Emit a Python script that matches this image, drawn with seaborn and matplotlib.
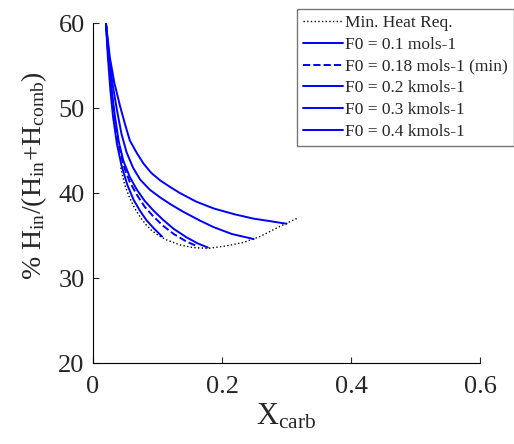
import matplotlib
matplotlib.use("Agg")
import matplotlib.pyplot as plt
import seaborn as sns
import pandas as pd
from matplotlib.lines import Line2D

# --- data ---
minheat_x = [0.043, 0.049, 0.056, 0.064, 0.073, 0.082, 0.091, 0.102, 0.114, 0.135,
             0.155, 0.178, 0.207, 0.233, 0.259, 0.290, 0.318]
minheat_y = [43.0, 41.0, 39.6, 38.3, 37.2, 36.3, 35.6, 35.0, 34.5, 33.9,
             33.6, 33.5, 33.8, 34.2, 34.9, 36.1, 37.1]

f01_x = [0.020, 0.023, 0.027, 0.031, 0.037, 0.044, 0.053, 0.063, 0.073, 0.083, 0.095, 0.107]
f01_y = [60.0, 56.0, 52.0, 49.0, 45.8, 43.3, 41.0, 39.2, 37.9, 36.8, 35.8, 34.9]

f018_x = [0.020, 0.024, 0.029, 0.034, 0.040, 0.047, 0.057, 0.068, 0.080, 0.093,
          0.108, 0.125, 0.145, 0.163]
f018_y = [60.0, 55.8, 51.7, 48.6, 45.6, 43.3, 41.3, 39.8, 38.4, 37.3,
          36.2, 35.2, 34.3, 33.7]

f02_x = [0.020, 0.024, 0.029, 0.034, 0.040, 0.047, 0.057, 0.068, 0.080, 0.093,
         0.108, 0.125, 0.145, 0.162, 0.178]
f02_y = [60.0, 56.0, 52.0, 49.0, 46.0, 43.8, 41.9, 40.4, 39.1, 38.0,
         36.9, 35.8, 34.8, 34.1, 33.6]

f03_x = [0.020, 0.025, 0.031, 0.037, 0.044, 0.052, 0.062, 0.073, 0.088, 0.104,
         0.120, 0.140, 0.165, 0.187, 0.215, 0.249]
f03_y = [60.0, 56.0, 52.5, 49.8, 47.0, 44.8, 43.0, 41.6, 40.4, 39.5,
         38.7, 37.8, 36.8, 36.0, 35.2, 34.6]

f04_x = [0.020, 0.026, 0.033, 0.042, 0.050, 0.057, 0.068, 0.078, 0.090, 0.104,
         0.120, 0.135, 0.160, 0.187, 0.220, 0.249, 0.275, 0.300]
f04_y = [60.0, 56.0, 53.0, 50.2, 48.0, 46.2, 44.7, 43.5, 42.4, 41.5,
         40.7, 40.0, 39.0, 38.2, 37.5, 37.0, 36.7, 36.4]

labels = ["Min. Heat Req.", "F0 = 0.1 mols-1", "F0 = 0.18 mols-1 (min)",
          "F0 = 0.2 kmols-1", "F0 = 0.3 kmols-1", "F0 = 0.4 kmols-1"]
xticks = [0, 0.2, 0.4, 0.6]
xticklabels = ["0", "0.2", "0.4", "0.6"]
yticks = [20, 30, 40, 50, 60]

sns.set_style("ticks")
plt.rcParams["font.family"] = ["Liberation Serif", "DejaVu Serif"]
plt.rcParams["mathtext.fontset"] = "custom"
plt.rcParams["mathtext.rm"] = "Liberation Serif"
plt.rcParams["mathtext.it"] = "Liberation Serif:italic"

fig = plt.figure(figsize=(5.14, 4.44), dpi=100)
ax = fig.add_axes([0.181, 0.182, 0.753, 0.766])

series = [
    (minheat_x, minheat_y, "black", ":", 1.0),
    (f01_x, f01_y, "#0000ff", "-", 1.4),
    (f018_x, f018_y, "#0000ff", "--", 1.4),
    (f02_x, f02_y, "#0000ff", "-", 1.4),
    (f03_x, f03_y, "#0000ff", "-", 1.4),
    (f04_x, f04_y, "#0000ff", "-", 1.4),
]
handles = []
for (xs, ys, c, ls, lw), lab in zip(series, labels):
    df = pd.DataFrame({"x": xs, "y": ys})
    sns.lineplot(data=df, x="x", y="y", ax=ax, color=c, linestyle=ls,
                 linewidth=lw, sort=False, estimator=None)
    handles.append(Line2D([], [], color=c, linestyle=ls, linewidth=lw))

ax.set_xlim(0, 0.6)
ax.set_ylim(20, 60)
ax.set_xticks(xticks)
ax.set_xticklabels(xticklabels)
ax.set_yticks(yticks)
ax.tick_params(direction="in", labelsize=19, length=4, width=0.8)
ax.tick_params(axis="x", pad=9)
ax.tick_params(axis="y", pad=6)
for s in ["top", "right"]:
    ax.spines[s].set_visible(False)
for s in ["left", "bottom"]:
    ax.spines[s].set_linewidth(0.8)
    ax.spines[s].set_color("black")

ax.set_xlabel(r"X$_{\mathrm{carb}}$", fontsize=22, labelpad=3)
ax.set_ylabel(r"% H$_{\mathrm{in}}$/(H$_{\mathrm{in}}$+H$_{\mathrm{comb}}$)", fontsize=20)
ax.yaxis.set_label_coords(-0.115, 0.553)

leg = ax.legend(handles, labels, loc="upper left",
                bbox_to_anchor=(297 / 514, 1 - 9 / 444), bbox_transform=fig.transFigure,
                borderaxespad=0, fontsize=12.5, frameon=True, fancybox=False,
                handlelength=2.3, handletextpad=0.1, labelspacing=0.32,
                borderpad=0.35)
leg.get_frame().set_edgecolor("#555555")
leg.get_frame().set_linewidth(1.0)

fig.savefig("out.png", dpi=100)
